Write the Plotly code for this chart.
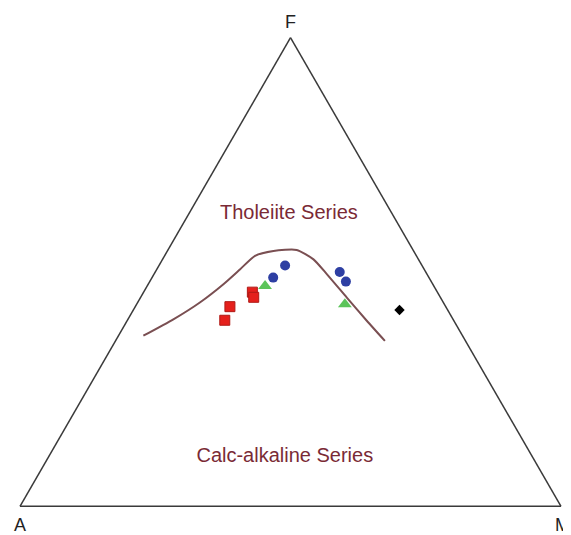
import plotly.graph_objects as go

# AFM diagram: values in percent (A, F, M)
curve_A = [59.0, 51.7, 45.0, 38.7, 34.0, 29.8, 25.9, 21.5, 19.4, 18.5, 17.3, 16.1, 14.9]
curve_F = [36.4, 39.9, 43.5, 47.4, 50.6, 53.4, 54.5, 54.7, 52.7, 49.5, 44.5, 39.6, 35.3]
curve_M = [4.6, 8.4, 11.5, 13.9, 15.4, 16.7, 19.6, 23.8, 27.9, 32.0, 38.1, 44.3, 49.8]

red_A = [39.9, 42.3, 34.2, 34.5]
red_F = [42.6, 39.7, 45.7, 44.6]
red_M = [17.5, 18.0, 20.1, 20.9]

green_A = [31.2, 18.4]
green_F = [47.0, 43.1]
green_M = [21.8, 38.5]

blue_A = [28.8, 25.3, 15.9, 15.8]
blue_F = [48.8, 51.4, 50.0, 48.0]
blue_M = [22.4, 23.3, 34.1, 36.3]

black_A = [8.9]
black_F = [41.9]
black_M = [49.2]

labels = ["Tholeiite Series", "Calc-alkaline Series"]
label_A = [19.1, 45.8]
label_F = [62.4, 10.5]
label_M = [18.5, 43.7]

fig = go.Figure()

fig.add_trace(go.Scatterternary(
    a=curve_F, b=curve_A, c=curve_M, mode="lines",
    line=dict(color="#7a4f52", width=2, shape="spline", smoothing=0.6),
    showlegend=False))

fig.add_trace(go.Scatterternary(
    a=red_F, b=red_A, c=red_M, mode="markers",
    marker=dict(symbol="square", size=10, color="#e5201c",
                line=dict(color="#b01a16", width=1)), showlegend=False))
fig.add_trace(go.Scatterternary(
    a=green_F, b=green_A, c=green_M, mode="markers",
    marker=dict(symbol="triangle-up", size=12, color="#5cc45a", line=dict(width=0)),
    showlegend=False))
fig.add_trace(go.Scatterternary(
    a=blue_F, b=blue_A, c=blue_M, mode="markers",
    marker=dict(symbol="circle", size=10, color="#2e3fa3", line=dict(width=0)),
    showlegend=False))
fig.add_trace(go.Scatterternary(
    a=black_F, b=black_A, c=black_M, mode="markers",
    marker=dict(symbol="diamond", size=8, color="black", line=dict(width=0)),
    showlegend=False))

fig.add_trace(go.Scatterternary(
    a=label_F, b=label_A, c=label_M, mode="text", text=labels,
    textfont=dict(family="Liberation Sans, Arial", size=20, color="#7a2a35"),
    showlegend=False))

axis_style = dict(showgrid=False, showticklabels=False, ticks="",
                  linecolor="#3a3a3a", linewidth=1.5, min=0, title=dict(text=""))

fig.update_layout(
    width=571, height=535,
    margin=dict(l=12, r=18, t=29, b=36),
    paper_bgcolor="white",
    font=dict(family="Liberation Sans, Arial", color="#333333"),
    ternary=dict(
        sum=100,
        bgcolor="white",
        aaxis=axis_style,
        baxis=axis_style,
        caxis=axis_style,
    ),
)

# vertex labels
for txt, xp, yp in [("F", 290, 22), ("A", 20, 525), ("M", 562, 525)]:
    fig.add_annotation(text=txt, showarrow=False,
                       x=(xp - 20) / 541, y=1 - (yp - 37) / 470,
                       xref="paper", yref="paper",
                       xanchor="center", yanchor="middle",
                       font=dict(family="Liberation Sans, Arial", size=18, color="#222222"))

fig.write_html("out.html")
